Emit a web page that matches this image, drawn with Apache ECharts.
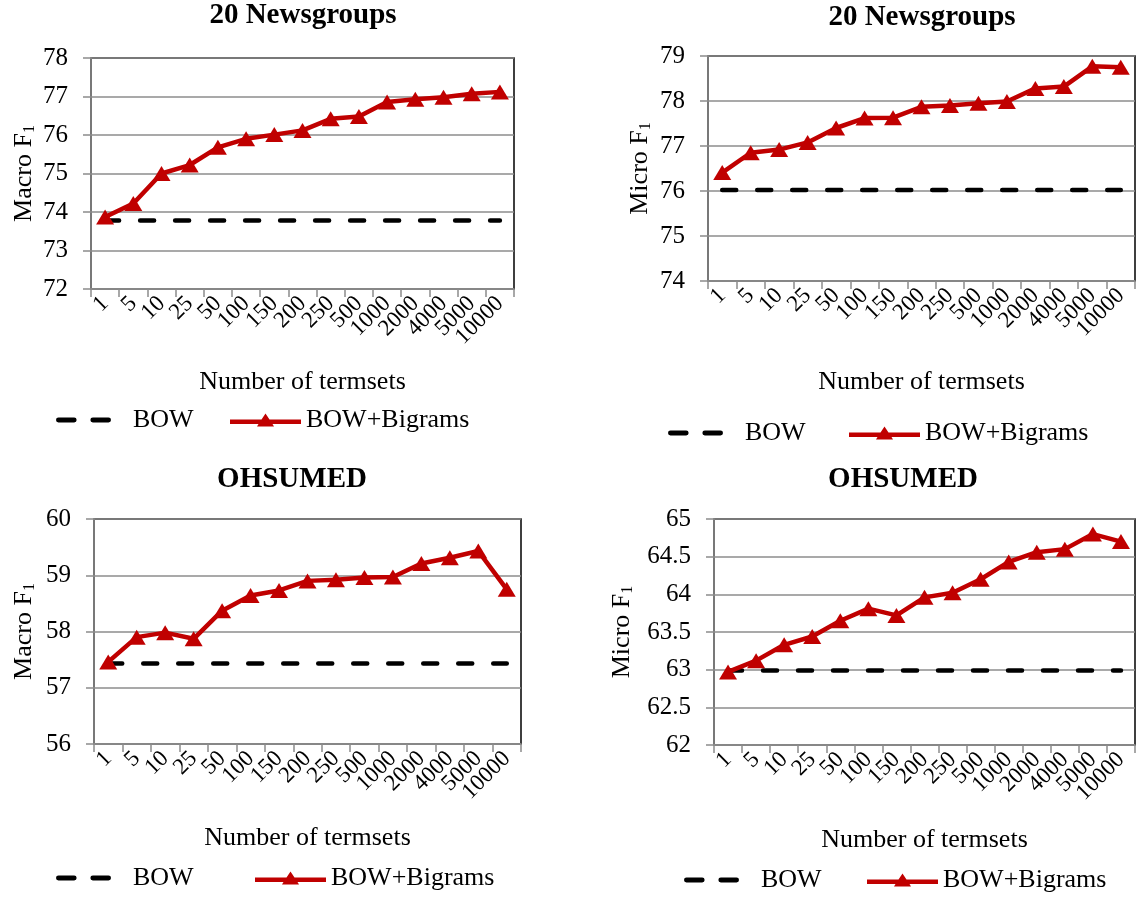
<!DOCTYPE html>
<html><head><meta charset="utf-8">
<script src="https://cdn.jsdelivr.net/npm/echarts@6/dist/echarts.min.js"></script>
<style>html,body{margin:0;padding:0;background:#fff}#c{width:1138px;height:899px}</style>
</head><body><div id="c"></div>
<script>
const categories = ['1','5','10','25','50','100','150','200','250','500','1000','2000','4000','5000','10000'];

const ngMacroBow = [73.78,73.78,73.78,73.78,73.78,73.78,73.78,73.78,73.78,73.78,73.78,73.78,73.78,73.78,73.78];
const ngMacroBigrams = [73.87,74.22,75.0,75.22,75.68,75.9,76.01,76.12,76.42,76.48,76.86,76.93,76.98,77.07,77.12];

const ngMicroBow = [76.02,76.02,76.02,76.02,76.02,76.02,76.02,76.02,76.02,76.02,76.02,76.02,76.02,76.02,76.02];
const ngMicroBigrams = [76.41,76.85,76.92,77.08,77.4,77.62,77.63,77.87,77.9,77.95,77.99,78.28,78.32,78.77,78.75];

const ohMacroBow = [57.43,57.43,57.43,57.43,57.43,57.43,57.43,57.43,57.43,57.43,57.43,57.43,57.43,57.43,57.43];
const ohMacroBigrams = [57.46,57.9,57.98,57.87,58.37,58.64,58.73,58.9,58.92,58.96,58.97,59.21,59.31,59.43,58.75];

const ohMicroBow = [62.99,62.99,62.99,62.99,62.99,62.99,62.99,62.99,62.99,62.99,62.99,62.99,62.99,62.99,62.99];
const ohMicroBigrams = [62.97,63.12,63.33,63.44,63.65,63.81,63.72,63.96,64.02,64.2,64.43,64.56,64.6,64.8,64.7];

const titles = ['20 Newsgroups','20 Newsgroups','OHSUMED','OHSUMED'];
const yNames = ['Macro','Micro','Macro','Micro'];
const yRanges = [[72,78,1],[74,79,1],[56,60,1],[62,65,0.5]];
const xName = 'Number of termsets';

const FONT = 'Liberation Serif';
const RED = '#c00000';
const GRAY = '#8c8c8c';

const grids = [
  {left:91, top:58, width:423, height:231},
  {left:708, top:56, width:427, height:225},
  {left:94, top:519, width:427, height:225},
  {left:714, top:519, width:421, height:226}
];
const titlePos = [[303,1],[922,3],[292,465],[903,465]];
const yNameGap = [53,54,56,78];
const xNameGap = [80,88,81,82];
const legendPos = [[56,407,230,407],[668,420,849,420],[56,865,255,865],[684,867,867,867]];
const bowData = [ngMacroBow, ngMicroBow, ohMacroBow, ohMicroBow];
const bigData = [ngMacroBigrams, ngMicroBigrams, ohMacroBigrams, ohMicroBigrams];

const BOW_ICON = 'path://M2,0H18A2,2 0 0 1 18,5H2A2,2 0 0 1 2,0ZM37,0H53A2,2 0 0 1 53,5H37A2,2 0 0 1 37,0Z';
const BIG_ICON = 'path://M0,6H31.5L35.5,0L39.5,6H71V10.5H42.5L44,13H27L28.5,10.5H0Z';

const option = {
  backgroundColor:'#fff',
  animation:false,
  textStyle:{fontFamily:FONT, color:'#000'},
  title: titles.map((t,i)=>({text:t, left:titlePos[i][0], top:titlePos[i][1], textAlign:'center', padding:0,
    textStyle:{fontFamily:FONT, fontSize:29, fontWeight:'bold', color:'#000'}})),
  grid: grids.map(g=>Object.assign({show:true, borderColor:'#000', borderWidth:1.5, backgroundColor:'#fff'}, g)),
  xAxis: grids.map((g,i)=>({
    type:'category', gridIndex:i, data:categories, boundaryGap:true,
    name:xName, nameLocation:'middle', nameGap:xNameGap[i],
    nameTextStyle:{fontFamily:FONT, fontSize:26, color:'#000'},
    axisLine:{lineStyle:{color:GRAY, width:1.5}},
    axisTick:{show:true, length:8, lineStyle:{color:GRAY, width:1.5}},
    axisLabel:{rotate:45, interval:0, fontFamily:FONT, fontSize:23, color:'#000', margin:11},
    splitLine:{show:false}
  })),
  yAxis: grids.map((g,i)=>({
    type:'value', gridIndex:i, min:yRanges[i][0], max:yRanges[i][1], interval:yRanges[i][2],
    name:'{a|'+yNames[i]+' F}{s|1}', nameLocation:'middle', nameRotate:90, nameGap:yNameGap[i],
    nameTextStyle:{fontFamily:FONT, fontSize:26, color:'#000',
      rich:{a:{fontFamily:FONT, fontSize:26, color:'#000'}, s:{fontFamily:FONT, fontSize:16, color:'#000', padding:[12,0,0,0]}}},
    axisLine:{show:true, lineStyle:{color:GRAY, width:1.5}},
    axisTick:{show:true, length:8, lineStyle:{color:GRAY, width:1.5}},
    axisLabel:{fontFamily:FONT, fontSize:25, color:'#000', margin:23},
    splitLine:{show:true, lineStyle:{color:GRAY, width:1.5}}
  })),
  legend: [].concat(...legendPos.map((p,i)=>[
    {left:p[0], top:p[1], padding:0, data:[{name:'BOW', icon:BOW_ICON, itemStyle:{color:'#000'}}], itemWidth:55, itemHeight:5,
     textStyle:{fontFamily:FONT, fontSize:26, color:'#000', padding:[0,0,0,17]}, selectedMode:false},
    {left:p[2], top:p[3], padding:0, data:[{name:'BOW+Bigrams', icon:BIG_ICON, itemStyle:{color:RED}}], itemWidth:71, itemHeight:13,
     textStyle:{fontFamily:FONT, fontSize:26, color:'#000'}, selectedMode:false}
  ])),
  series: [].concat(...grids.map((g,i)=>[
    {name:'BOW', type:'line', xAxisIndex:i, yAxisIndex:i, data:bowData[i], showSymbol:false, symbol:'none',
     lineStyle:{color:'#000', width:4.5, type:[14,21], cap:'round'}, itemStyle:{color:'#000'}, z:3},
    {name:'BOW+Bigrams', type:'line', xAxisIndex:i, yAxisIndex:i, data:bigData[i], symbol:'triangle', symbolSize:[18,15],
     lineStyle:{color:RED, width:4.5}, itemStyle:{color:RED}, z:4}
  ]))
};
const chart = echarts.init(document.getElementById('c'), null, {renderer:'canvas'});
chart.setOption(option);
</script></body></html>
